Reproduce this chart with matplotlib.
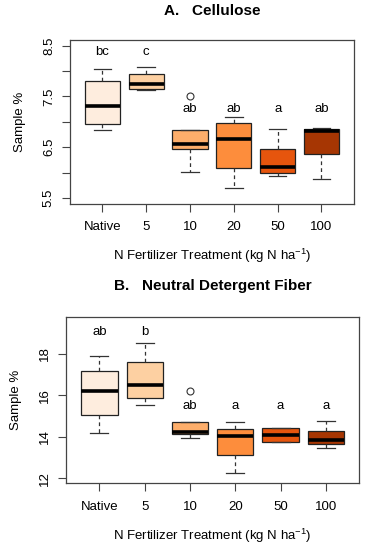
import matplotlib
matplotlib.use("Agg")
import matplotlib.pyplot as plt

plt.rcParams["font.family"] = ["Liberation Sans", "DejaVu Sans"]
plt.rcParams["mathtext.default"] = "regular"

# treatment groups
groups = ["Native", "5", "10", "20", "50", "100"]
box_colors = ["#FEEDDE", "#FDD0A2", "#FDAE6B", "#FD8D3C", "#E6550D", "#A63603"]

# A. Cellulose
cel_whislo = [6.83, 7.63, 6.01, 5.70, 5.93, 5.88]
cel_q1 = [6.95, 7.64, 6.47, 6.08, 6.00, 6.36]
cel_med = [7.32, 7.74, 6.56, 6.66, 6.10, 6.82]
cel_q3 = [7.81, 7.95, 6.84, 6.97, 6.47, 6.86]
cel_whishi = [8.04, 8.09, 6.84, 7.10, 6.86, 6.87]
cel_fliers = [[], [], [7.51], [], [], []]
cel_letters = ["bc", "c", "ab", "ab", "a", "ab"]
cel_letter_y = [8.37, 8.37, 7.25, 7.25, 7.25, 7.25]

# B. Neutral Detergent Fiber
ndf_whislo = [14.16, 15.55, 13.95, 12.26, 13.74, 13.47]
ndf_q1 = [15.04, 15.87, 14.11, 13.12, 13.74, 13.63]
ndf_med = [16.19, 16.48, 14.22, 14.02, 14.08, 13.84]
ndf_q3 = [17.17, 17.63, 14.70, 14.38, 14.40, 14.27]
ndf_whishi = [17.90, 18.53, 14.70, 14.70, 14.40, 14.74]
ndf_fliers = [[], [], [16.22], [], [], []]
ndf_letters = ["ab", "b", "ab", "a", "a", "a"]
ndf_letter_y = [19.07, 19.07, 15.47, 15.47, 15.47, 15.47]

FRAME = "#444444"


def draw_panel(ax, title, whislo, q1, med, q3, whishi, fliers, letters, letter_y,
               ylim, yticks, ylabels, title_pad):
    stats = []
    for i in range(len(groups)):
        stats.append(dict(whislo=whislo[i], q1=q1[i], med=med[i], q3=q3[i],
                          whishi=whishi[i], fliers=fliers[i], label=groups[i]))
    positions = list(range(1, len(groups) + 1))
    bp = ax.bxp(stats, positions=positions, widths=0.8, patch_artist=True,
                boxprops=dict(edgecolor="#222222", linewidth=0.9),
                medianprops=dict(color="black", linewidth=2.6),
                whiskerprops=dict(color="#333333", linewidth=0.9, linestyle=(0, (3, 2.5))),
                capprops=dict(color="#333333", linewidth=0.9),
                flierprops=dict(marker="o", markerfacecolor="none",
                                markeredgecolor="#333333", markersize=5, markeredgewidth=0.8))
    for patch, c in zip(bp["boxes"], box_colors):
        patch.set_facecolor(c)
    # caps are a bit narrower than the box
    for cap in bp["caps"]:
        x0, x1 = cap.get_xdata()
        xm = (x0 + x1) / 2
        cap.set_xdata([xm - 0.2, xm + 0.2])

    for x, lab, y in zip(positions, letters, letter_y):
        ax.text(x, y, lab, ha="center", va="center", fontsize=9.5)

    ax.set_xlim(0.26, 6.74)
    ax.set_ylim(*ylim)
    ax.set_yticks(yticks)
    ax.set_yticklabels(ylabels, rotation=90, va="center")
    ax.set_xticks(positions)
    ax.set_xticklabels(groups)
    ax.tick_params(axis="both", length=5.8, width=0.8, color=FRAME, labelsize=9.5)
    ax.tick_params(axis="x", pad=7)
    ax.tick_params(axis="y", pad=5)
    for sp in ax.spines.values():
        sp.set_color(FRAME)
        sp.set_linewidth(0.9)
    ax.set_ylabel("Sample %", fontsize=9.5, labelpad=12.5)
    ax.set_xlabel(r"N Fertilizer Treatment (kg N ha$^{-1}$)", fontsize=9.5, labelpad=10)
    ax.set_title(title, fontsize=11, fontweight="bold", pad=title_pad)


fig = plt.figure(figsize=(3.66, 5.5), dpi=100)
ax1 = fig.add_axes([0.191, 0.630, 0.776, 0.297])
ax2 = fig.add_axes([0.180, 0.121, 0.802, 0.303])

draw_panel(ax1, "A.   Cellulose", cel_whislo, cel_q1, cel_med, cel_q3, cel_whishi,
           cel_fliers, cel_letters, cel_letter_y, (5.39, 8.61),
           [5.5, 6.0, 6.5, 7.0, 7.5, 8.0, 8.5], ["5.5", "", "6.5", "", "7.5", "", "8.5"], 18)
draw_panel(ax2, "B.   Neutral Detergent Fiber", ndf_whislo, ndf_q1, ndf_med, ndf_q3,
           ndf_whishi, ndf_fliers, ndf_letters, ndf_letter_y, (11.74, 19.79),
           [12, 14, 16, 18], ["12", "14", "16", "18"], 19)

fig.savefig("out.png", dpi=100)
